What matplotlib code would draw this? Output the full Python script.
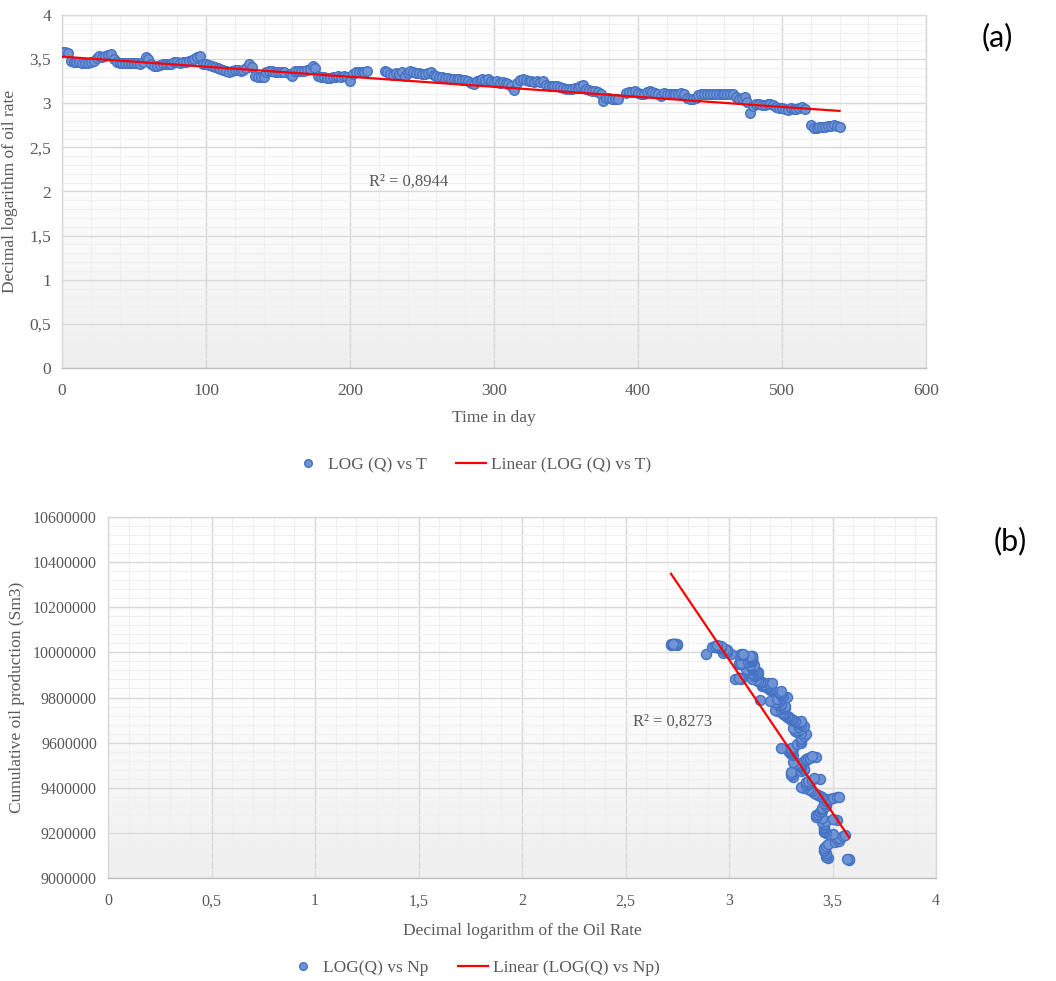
import numpy as np
import matplotlib
matplotlib.use("Agg")
import matplotlib.pyplot as plt
from matplotlib.lines import Line2D
from matplotlib.ticker import MultipleLocator, FuncFormatter
from matplotlib.colors import LinearSegmentedColormap

nan = float("nan")

# ---------------- data: time axis (days, every 2nd day) ----------------
days = list(range(0, 541, 2))

# LOG(Q) (a); same series is the x of chart (b)
log_q = [
    3.58, 3.58, 3.57, 3.48, 3.47, 3.47, 3.47, 3.46, 3.46, 3.46,   # 0-18
    3.47, 3.48, 3.51, 3.53, 3.52, 3.53, 3.55, 3.56, 3.50, 3.47,   # 20-38
    3.46, 3.46, 3.46, 3.46, 3.46, 3.46, 3.46, 3.45, 3.47, 3.52,   # 40-58
    3.50, 3.45, 3.42, 3.42, 3.43, 3.44, 3.45, 3.45, 3.45, 3.47,   # 60-78
    3.47, 3.46, 3.47, 3.47, 3.48, 3.49, 3.50, 3.52, 3.53, 3.45,   # 80-98
    3.44, 3.43, 3.42, 3.41, 3.40, 3.39, 3.38, 3.36, 3.35, 3.37,   # 100-118
    3.38, 3.38, 3.37, 3.38, 3.40, 3.44, 3.41, 3.31, 3.30, 3.30,   # 120-138
    3.30, 3.35, 3.36, 3.36, 3.35, 3.35, 3.35, 3.35, nan, 3.33,    # 140-158
    3.31, 3.36, 3.37, 3.37, 3.37, 3.38, 3.39, 3.42, 3.40, 3.31,   # 160-178
    3.30, 3.30, 3.29, 3.29, 3.30, 3.30, 3.31, 3.30, 3.31, 3.30,   # 180-198
    3.25, 3.33, 3.35, 3.35, 3.35, 3.35, 3.36, nan, nan, nan,      # 200-218
    nan, nan, 3.37, 3.35, 3.33, 3.32, 3.34, 3.33, 3.35, 3.31,     # 220-238
    3.34, 3.36, 3.35, 3.34, 3.34, 3.33, 3.33, 3.34, 3.35, 3.32,   # 240-258
    3.31, 3.30, 3.30, 3.29, 3.29, 3.28, 3.28, 3.27, 3.27, 3.26,   # 260-278
    3.26, 3.25, 3.23, 3.22, 3.25, 3.26, 3.27, 3.26, 3.27, 3.25,   # 280-298
    3.24, 3.25, 3.23, 3.24, 3.23, 3.22, 3.20, 3.15, 3.23, 3.26,   # 300-318
    3.28, 3.26, 3.25, 3.25, 3.24, 3.25, 3.24, 3.25, 3.21, 3.20,   # 320-338
    3.20, 3.19, 3.19, 3.18, 3.17, 3.16, 3.16, 3.16, 3.17, 3.17,   # 340-358
    3.19, 3.21, 3.16, 3.15, 3.14, 3.14, 3.13, 3.11, 3.03, 3.06,   # 360-378
    3.06, 3.05, 3.05, 3.05, nan, nan, 3.12, 3.13, 3.13, 3.14,     # 380-398
    3.12, 3.10, 3.11, 3.13, 3.14, 3.13, 3.12, 3.11, 3.08, 3.12,   # 400-418
    3.11, 3.11, 3.11, 3.11, 3.11, 3.12, 3.10, 3.06, 3.05, 3.05,   # 420-438
    3.06, 3.09, 3.10, 3.11, 3.11, 3.11, 3.11, 3.11, 3.11, 3.11,   # 440-458
    3.11, 3.11, 3.11, 3.10, 3.07, 3.05, 3.06, 3.07, 3.01, 2.89,   # 460-478
    2.97, 2.99, 2.99, 2.98, 2.98, 2.99, 2.99, 2.98, 2.96, 2.95,   # 480-498
    2.95, 2.93, 2.92, 2.95, 2.94, 2.93, 2.95, 2.96, 2.94, nan,    # 500-518
    2.75, 2.72, 2.72, 2.73, 2.73, 2.73, 2.74, 2.74, 2.75, 2.74,   # 520-538
    2.73,                                                         # 540
]

# Cumulative oil production Np (thousand Sm3) (b)
np_k = [
    9078, 9082, 9085, 9090, 9095, 9102, 9110, 9118, 9125, 9132,          # 0-18
    9140, 9150, 9160, 9166, 9172, 9178, 9185, 9190, 9195, 9200,          # 20-38
    9205, 9210, 9215, 9222, 9228, 9234, 9240, 9246, 9252, 9258,          # 40-58
    9262, 9267, 9272, 9278, 9285, 9292, 9298, 9305, 9312, 9320,          # 60-78
    9328, 9334, 9340, 9345, 9350, 9352, 9355, 9357, 9358, 9360,          # 80-98
    9362, 9367, 9372, 9378, 9385, 9390, 9395, 9400, 9405, 9410,          # 100-118
    9415, 9420, 9425, 9430, 9435, 9440, 9442, 9448, 9455, 9462,          # 120-138
    9468, 9473, 9478, 9484, 9490, 9495, 9500, 9504, nan, 9508,           # 140-158
    9513, 9518, 9522, 9525, 9528, 9530, 9532, 9535, 9540, 9545,          # 160-178
    9550, 9555, 9558, 9562, 9565, 9568, 9570, 9572, 9574, 9576,          # 180-198
    9578, 9592, 9600, 9608, 9615, 9622, 9630, nan, nan, nan,             # 200-218
    nan, nan, 9640, 9644, 9648, 9652, 9655, 9658, 9662, 9666,            # 220-238
    9670, 9674, 9678, 9682, 9685, 9688, 9690, 9693, 9696, 9698,          # 240-258
    9700, 9702, 9705, 9708, 9712, 9715, 9718, 9722, 9725, 9728,          # 260-278
    9732, 9736, 9740, 9744, 9748, 9752, 9755, 9758, 9762, 9765,          # 280-298
    9768, 9772, 9775, 9778, 9780, 9782, 9785, 9790, 9795, 9800,          # 300-318
    9804, 9808, 9812, 9815, 9818, 9822, 9825, 9828, 9832, 9835,          # 320-338
    9838, 9842, 9845, 9848, 9850, 9853, 9856, 9858, 9860, 9862,          # 340-358
    9864, 9866, 9868, 9870, 9872, 9875, 9878, 9880, 9882, 9884,          # 360-378
    9885, 9887, 9887, 9888, nan, nan, 9895, 9898, 9900, 9902,            # 380-398
    9905, 9908, 9910, 9912, 9915, 9918, 9920, 9922, 9925, 9928,          # 400-418
    9930, 9932, 9935, 9938, 9940, 9942, 9945, 9948, 9950, 9952,          # 420-438
    9955, 9958, 9960, 9962, 9965, 9968, 9970, 9972, 9975, 9978,          # 440-458
    9980, 9982, 9984, 9986, 9988, 9990, 9991, 9992, 9993, 9995,          # 460-478
    9998, 10000, 10002, 10005, 10008, 10010, 10012, 10015, 10018, 10020, # 480-498
    10021, 10022, 10024, 10025, 10027, 10028, 10029, 10030, 10032, nan,  # 500-518
    10034, 10034, 10035, 10035, 10036, 10036, 10037, 10037, 10038, 10038,  # 520-538
    10039,                                                               # 540
]

# Excel linear trendlines
fit_a_intercept = 3.528
fit_a_slope = -0.001139
r2_a = "R² = 0,8944"
fit_b_intercept = 14042000
fit_b_slope = -1358000
r2_b = "R² = 0,8273"

legend_a = ["LOG (Q) vs T", "Linear (LOG (Q) vs T)"]
legend_b = ["LOG(Q) vs Np", "Linear (LOG(Q) vs Np)"]

# ---------------- styling ----------------
SERIF = ["Liberation Serif", "DejaVu Serif"]
TXT = "#595959"
MFACE = "#7093d4"
MEDGE = "#4472c4"
plt.rcParams["font.family"] = SERIF

fig = plt.figure(figsize=(10.56, 9.81), dpi=100)
W, H = 1056, 981


def ax_px(l, t, r, b):
    return fig.add_axes([l / W, 1 - b / H, (r - l) / W, (b - t) / H])


grad_cmap = LinearSegmentedColormap.from_list("g", ["#ffffff", "#fdfdfd", "#efefef"])


def style(ax, xmaj, xmin, ymaj, ymin, fmt, lsize):
    ax.set_facecolor("white")
    g = np.linspace(0, 1, 256).reshape(-1, 1)
    ax.imshow(g, extent=[0, 1, 0, 1], transform=ax.transAxes, aspect="auto",
              cmap=grad_cmap, zorder=0, interpolation="bilinear")
    ax.xaxis.set_major_locator(MultipleLocator(xmaj))
    ax.xaxis.set_minor_locator(MultipleLocator(xmin))
    ax.yaxis.set_major_locator(MultipleLocator(ymaj))
    ax.yaxis.set_minor_locator(MultipleLocator(ymin))
    ax.grid(which="major", color="#d9d9d9", linewidth=1.0, zorder=1)
    ax.grid(which="minor", color="#f0f0f0", linewidth=0.8, zorder=1)
    ax.set_axisbelow(True)
    for s in ax.spines.values():
        s.set_color("#d9d9d9")
        s.set_linewidth(1.0)
    ax.spines["bottom"].set_color("#bfbfbf")
    ax.tick_params(which="both", length=0, colors=TXT, labelsize=lsize, pad=8)
    ax.tick_params(axis="x", pad=11)
    ax.xaxis.set_major_formatter(FuncFormatter(fmt))
    ax.yaxis.set_major_formatter(FuncFormatter(fmt))


def comma_fmt(v, p):
    return ("%g" % round(v, 6)).replace(".", ",")


def int_fmt(v, p):
    return "%d" % round(v)


# ---------- chart (a) ----------
axa = ax_px(62, 15, 926, 368)
style(axa, 100, 20, 0.5, 0.1, comma_fmt, 12.5)
axa.set_xlim(0, 600)
axa.set_ylim(0, 4)
axa.scatter(days, log_q, s=48, facecolor=MFACE, edgecolor=MEDGE, linewidth=1.0, zorder=3)
xs = np.array([min(days), max(days)])
axa.plot(xs, fit_a_intercept + fit_a_slope * xs, color="#ff0000", linewidth=1.6, zorder=4)
axa.text(213, 2.11, r2_a, fontsize=12, color=TXT, va="center", zorder=5)
axa.set_xlabel("Time in day", fontsize=12.5, color=TXT, labelpad=8)
axa.set_ylabel("Decimal logarithm of oil rate", fontsize=12.5, color=TXT, labelpad=8)

# ---------- chart (b) ----------
np_sm3 = [v * 1000 for v in np_k]
axb = ax_px(108, 517, 936, 878)
style(axb, 0.5, 0.1, 200000, 40000, comma_fmt, 11.5)
axb.yaxis.set_major_formatter(FuncFormatter(int_fmt))
axb.set_xlim(0, 4)
axb.set_ylim(9000000, 10600000)
axb.scatter(log_q, np_sm3, s=52, facecolor=MFACE, edgecolor=MEDGE, linewidth=1.0, zorder=3)
xb = np.array([np.nanmin(log_q), np.nanmax(log_q)])
axb.plot(xb, fit_b_intercept + fit_b_slope * xb, color="#ff0000", linewidth=1.6, zorder=4)
axb.text(2.536, 9.691e6, r2_b, fontsize=12, color=TXT, va="center", zorder=5)
axb.set_xlabel("Decimal logarithm of the Oil Rate", fontsize=12.5, color=TXT, labelpad=10)
axb.set_ylabel("Cumulative oil production (Sm3)", fontsize=12.5, color=TXT, labelpad=6)


# ---------- legends ----------
def legend(labels, cx, y):
    h = [Line2D([], [], marker="o", linestyle="none", markersize=5.5,
                markerfacecolor=MFACE, markeredgecolor=MEDGE),
         Line2D([], [], color="#ff0000", linewidth=1.6)]
    lg = fig.legend(h, labels, loc="center", bbox_to_anchor=(cx / W, 1 - y / H),
                    ncol=2, frameon=False, fontsize=12.5, handlelength=1.7,
                    columnspacing=1.7, handletextpad=0.3, borderpad=0)
    for t in lg.get_texts():
        t.set_color(TXT)
    return lg


legend(legend_a, 472, 465)
legend(legend_b, 474, 968)

# panel tags
fig.text(997 / W, 1 - 37 / H, "(a)", fontsize=22, ha="center", va="center",
         family=["Lato", "DejaVu Sans"], color="black")
fig.text(1010 / W, 1 - 541 / H, "(b)", fontsize=22, ha="center", va="center",
         family=["Lato", "DejaVu Sans"], color="black")

fig.savefig("out.png", dpi=100, facecolor="white")
